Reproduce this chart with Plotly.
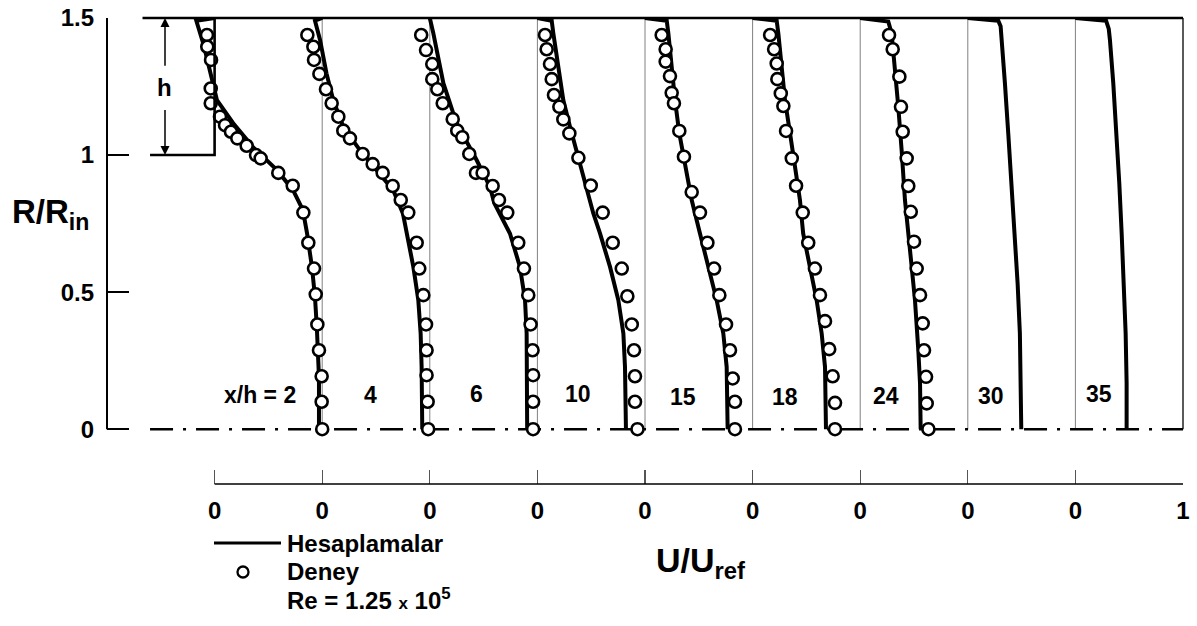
import plotly.graph_objects as go

# ---------------- data (R/Rin vs U/Uref, one list pair per station) ----------------
stations = ["x/h = 2", "4", "6", "10", "15", "18", "24", "30", "35"]
axis_ticks = [0, 1, 2, 3, 4, 5, 6, 7, 8, 9]
axis_ticktext = ["0", "0", "0", "0", "0", "0", "0", "0", "0", "1"]
r_ticks = [0, 0.5, 1, 1.5]
r_ticktext = ["0", "0.5", "1", "1.5"]

# computed profiles (Hesaplamalar)
calc_R_2 = [1.5, 1.49, 1.40, 1.266, 1.20, 1.117, 1.029, 0.945, 0.872, 0.80, 0.715, 0.591, 0.482, 0.372, 0.288, 0.19, 0.0]
calc_U_2 = [0.0, -0.17, -0.10, -0.015, 0.022, 0.171, 0.357, 0.58, 0.729, 0.82, 0.859, 0.905, 0.933, 0.95, 0.96, 0.97, 0.97]

calc_R_4 = [1.5, 1.49, 1.42, 1.298, 1.20, 1.103, 1.018, 0.945, 0.872, 0.787, 0.714, 0.592, 0.471, 0.349, 0.227, 0.0]
calc_U_4 = [0.0, -0.067, -0.02, 0.04, 0.103, 0.196, 0.35, 0.505, 0.66, 0.75, 0.785, 0.847, 0.893, 0.915, 0.924, 0.93]

calc_R_6 = [1.5, 1.444, 1.262, 1.116, 0.982, 0.884, 0.824, 0.787, 0.714, 0.592, 0.471, 0.349, 0.0]
calc_U_6 = [0.0, 0.033, 0.126, 0.249, 0.435, 0.559, 0.60, 0.652, 0.745, 0.838, 0.885, 0.90, 0.905]

calc_R_10 = [1.5, 1.49, 1.444, 1.322, 1.20, 1.103, 0.994, 0.884, 0.787, 0.714, 0.592, 0.471, 0.349, 0.227, 0.0]
calc_U_10 = [0.0, 0.133, 0.148, 0.195, 0.241, 0.303, 0.381, 0.458, 0.52, 0.582, 0.675, 0.752, 0.799, 0.814, 0.823]

calc_R_15 = [1.5, 1.49, 1.444, 1.322, 1.20, 1.079, 0.957, 0.836, 0.714, 0.592, 0.471, 0.349, 0.227, 0.0]
calc_U_15 = [0.0, 0.202, 0.217, 0.248, 0.279, 0.319, 0.372, 0.434, 0.511, 0.589, 0.666, 0.728, 0.759, 0.768]

calc_R_18 = [1.5, 1.49, 1.444, 1.322, 1.20, 1.079, 0.957, 0.836, 0.714, 0.592, 0.471, 0.349, 0.227, 0.0]
calc_U_18 = [0.0, 0.224, 0.239, 0.27, 0.301, 0.348, 0.394, 0.44, 0.47, 0.533, 0.595, 0.642, 0.673, 0.682]

calc_R_24 = [1.5, 1.487, 1.444, 1.322, 1.176, 1.018, 0.836, 0.653, 0.471, 0.288, 0.167, 0.0]
calc_U_24 = [0.0, 0.261, 0.292, 0.323, 0.354, 0.385, 0.416, 0.463, 0.509, 0.54, 0.556, 0.562]

calc_R_30 = [1.5, 1.49, 1.47, 1.42, 1.262, 1.079, 0.897, 0.714, 0.532, 0.349, 0.167, 0.0]
calc_U_30 = [0.0, 0.283, 0.305, 0.316, 0.345, 0.376, 0.407, 0.438, 0.463, 0.484, 0.494, 0.497]

calc_R_35 = [1.5, 1.49, 1.46, 1.42, 1.262, 1.079, 0.897, 0.714, 0.532, 0.349, 0.167, 0.0]
calc_U_35 = [0.0, 0.285, 0.31, 0.321, 0.352, 0.383, 0.408, 0.43, 0.451, 0.467, 0.476, 0.476]

# experiment (Deney)
exp_R_2 = [1.438, 1.395, 1.347, 1.243, 1.189, 1.14, 1.109, 1.085, 1.061, 1.034, 1.0, 0.988, 0.935, 0.888,
           0.79, 0.68, 0.586, 0.492, 0.382, 0.288, 0.193, 0.10, 0.0]
exp_U_2 = [-0.071, -0.068, -0.033, -0.036, -0.036, 0.05, 0.097, 0.152, 0.211, 0.298, 0.385, 0.428, 0.592, 0.726,
           0.825, 0.871, 0.924, 0.94, 0.955, 0.97, 0.995, 0.995, 1.0]

exp_R_4 = [1.438, 1.395, 1.347, 1.296, 1.24, 1.189, 1.14, 1.089, 1.061, 1.004, 0.967, 0.935, 0.887, 0.836,
           0.79, 0.68, 0.586, 0.489, 0.382, 0.288, 0.197, 0.10, 0.0]
exp_U_4 = [-0.138, -0.082, -0.076, -0.026, 0.035, 0.088, 0.15, 0.196, 0.258, 0.376, 0.469, 0.562, 0.655, 0.73,
           0.80, 0.878, 0.902, 0.94, 0.965, 0.97, 0.97, 0.98, 0.985]

exp_R_6 = [1.438, 1.383, 1.332, 1.277, 1.24, 1.189, 1.131, 1.089, 1.065, 1.004, 0.935, 0.935, 0.887, 0.836,
           0.79, 0.68, 0.586, 0.489, 0.382, 0.288, 0.197, 0.10, 0.0]
exp_U_6 = [-0.08, -0.035, 0.023, 0.023, 0.07, 0.12, 0.213, 0.255, 0.302, 0.367, 0.429, 0.491, 0.584, 0.643,
           0.72, 0.822, 0.875, 0.915, 0.937, 0.955, 0.96, 0.96, 0.96]

exp_R_10 = [1.438, 1.386, 1.332, 1.277, 1.219, 1.176, 1.13, 1.079, 0.99, 0.889, 0.79, 0.68, 0.586, 0.485,
            0.382, 0.288, 0.193, 0.10, 0.0]
exp_U_10 = [0.071, 0.086, 0.117, 0.133, 0.154, 0.204, 0.241, 0.297, 0.381, 0.496, 0.607, 0.70, 0.784, 0.836,
            0.877, 0.898, 0.907, 0.907, 0.93]

exp_R_15 = [1.438, 1.386, 1.341, 1.288, 1.227, 1.189, 1.088, 0.994, 0.865, 0.79, 0.68, 0.586, 0.489, 0.382,
            0.288, 0.185, 0.10, 0.0]
exp_U_15 = [0.155, 0.192, 0.192, 0.232, 0.248, 0.269, 0.319, 0.362, 0.434, 0.511, 0.58, 0.642, 0.691, 0.753,
            0.79, 0.815, 0.836, 0.836]

exp_R_18 = [1.438, 1.386, 1.334, 1.277, 1.225, 1.179, 1.088, 0.988, 0.888, 0.79, 0.68, 0.586, 0.489, 0.394,
            0.292, 0.193, 0.096, 0.0]
exp_U_18 = [0.163, 0.20, 0.224, 0.23, 0.262, 0.286, 0.311, 0.364, 0.404, 0.466, 0.517, 0.579, 0.626, 0.673,
            0.712, 0.744, 0.766, 0.766]

exp_R_24 = [1.438, 1.386, 1.286, 1.176, 1.085, 0.988, 0.887, 0.793, 0.684, 0.586, 0.489, 0.386, 0.288, 0.191,
            0.094, 0.0]
exp_U_24 = [0.268, 0.302, 0.364, 0.379, 0.395, 0.432, 0.447, 0.47, 0.50, 0.525, 0.556, 0.581, 0.593, 0.612,
            0.618, 0.634]

calc_U = [calc_U_2, calc_U_4, calc_U_6, calc_U_10, calc_U_15, calc_U_18, calc_U_24, calc_U_30, calc_U_35]
calc_R = [calc_R_2, calc_R_4, calc_R_6, calc_R_10, calc_R_15, calc_R_18, calc_R_24, calc_R_30, calc_R_35]
exp_U = [exp_U_2, exp_U_4, exp_U_6, exp_U_10, exp_U_15, exp_U_18, exp_U_24]
exp_R = [exp_R_2, exp_R_4, exp_R_6, exp_R_10, exp_R_15, exp_R_18, exp_R_24]

# ---------------- figure ----------------
FONT = "Liberation Sans, Arial, sans-serif"
W, H = 1197, 626
# plot area in window pixels: x 107..1183, y 18..484
ML, MT = 107, 18
MR = W - 1183
MB = H - 484
PW, PH = W - ML - MR, H - MT - MB
XR = [-1, 9]
YR = [-0.2, 1.5]


def pxx(px):  # window px -> paper fraction
    return (px - ML) / PW


def pxy(py):
    return (H - MB - py) / PH


def dy(v):  # data y -> paper fraction
    return (v - YR[0]) / (YR[1] - YR[0])


def dx(v):  # data x -> paper fraction
    return (v - XR[0]) / (XR[1] - XR[0])


fig = go.Figure()

# computed lines; each station shifted by its index on the shared x axis
for i, (u, r) in enumerate(zip(calc_U, calc_R)):
    fig.add_trace(go.Scatter(x=[i + v for v in u], y=r, mode="lines",
                             line=dict(color="black", width=4),
                             name="Hesaplamalar", showlegend=False, hoverinfo="skip"))

for i, (u, r) in enumerate(zip(exp_U, exp_R)):
    fig.add_trace(go.Scatter(x=[i + v for v in u], y=r, mode="markers",
                             marker=dict(symbol="circle", size=12, color="white",
                                         line=dict(color="black", width=2.6)),
                             name="Deney", showlegend=False, hoverinfo="skip", cliponaxis=False))

shapes = []
# station reference lines
for i in range(1, 9):
    shapes.append(dict(type="line", xref="x", yref="y", x0=i, x1=i, y0=0, y1=1.5,
                       line=dict(color="#808080", width=1), layer="below"))
# right border (paper refs so it is not clipped at the edge)
shapes.append(dict(type="line", xref="paper", yref="paper", x0=1, x1=1, y0=dy(0), y1=1,
                   line=dict(color="black", width=1.3), layer="above"))
# left axis line
shapes.append(dict(type="line", xref="paper", yref="paper", x0=0, x1=0, y0=dy(0), y1=1,
                   line=dict(color="black", width=2), layer="above"))
# top wall
shapes.append(dict(type="line", xref="paper", yref="paper", x0=dx(-0.67), x1=1, y0=1, y1=1,
                   line=dict(color="black", width=2.6), layer="above"))
# inlet wall + step
shapes.append(dict(type="path", xref="x", yref="y", path="M -0.6,1 L 0,1 L 0,1.5",
                   line=dict(color="black", width=2.6)))
# centerline
shapes.append(dict(type="line", xref="x", yref="y", x0=-0.6, x1=9, y0=0, y1=0,
                   line=dict(color="black", width=2.6, dash="23px,10px,3px,10px"), layer="below"))
# bottom U axis line
shapes.append(dict(type="line", xref="paper", yref="paper", x0=dx(0), x1=1, y0=0, y1=0,
                   line=dict(color="black", width=1.5), layer="above"))
# legend line sample
shapes.append(dict(type="line", xref="paper", yref="paper", x0=pxx(214), x1=pxx(281),
                   y0=pxy(543), y1=pxy(543), line=dict(color="black", width=3)))
# legend circle sample
shapes.append(dict(type="circle", xref="paper", yref="paper", xsizemode="pixel", ysizemode="pixel",
                   xanchor=pxx(243), yanchor=pxy(572), x0=-5.5, x1=5.5, y0=-5.5, y1=5.5,
                   line=dict(color="black", width=2.3), fillcolor="white"))

annotations = []
bold = dict(family=FONT, color="black", weight="bold")
# station labels
label_pos = [(0.42, 0.124), (1.445, 0.124), (2.43, 0.13), (3.38, 0.13), (4.35, 0.118),
             (5.30, 0.118), (6.24, 0.12), (7.22, 0.12), (8.22, 0.13)]
for txt, (lx, ly) in zip(stations, label_pos):
    annotations.append(dict(x=lx, y=ly, xref="x", yref="y", text=txt, showarrow=False,
                            font=dict(size=23, **bold), xanchor="center", yanchor="middle"))
# h arrows
annotations.append(dict(x=-0.461, y=1.5, ax=-0.461, ay=1.32, xref="x", yref="y", axref="x", ayref="y",
                        text="", showarrow=True, arrowhead=2, arrowsize=1.2, arrowwidth=1.5, arrowcolor="black"))
annotations.append(dict(x=-0.461, y=1.0, ax=-0.461, ay=1.17, xref="x", yref="y", axref="x", ayref="y",
                        text="", showarrow=True, arrowhead=2, arrowsize=1.2, arrowwidth=1.5, arrowcolor="black"))
annotations.append(dict(x=-0.47, y=1.245, xref="x", yref="y", text="h", showarrow=False,
                        font=dict(size=24, **bold), xanchor="center", yanchor="middle"))
# axis titles
annotations.append(dict(x=pxx(50), y=pxy(214), xref="paper", yref="paper", text="R/R<sub>in</sub>",
                        showarrow=False, font=dict(size=33, **bold), xanchor="center", yanchor="middle"))
annotations.append(dict(x=pxx(700), y=pxy(562), xref="paper", yref="paper", text="U/U<sub>ref</sub>",
                        showarrow=False, font=dict(size=34, **bold), xanchor="center", yanchor="middle"))
# legend texts
annotations.append(dict(x=pxx(285), y=pxy(543), xref="paper", yref="paper", text="Hesaplamalar",
                        showarrow=False, font=dict(size=24, **bold), xanchor="left", yanchor="middle"))
annotations.append(dict(x=pxx(285), y=pxy(571), xref="paper", yref="paper", text="Deney",
                        showarrow=False, font=dict(size=24, **bold), xanchor="left", yanchor="middle"))
annotations.append(dict(x=pxx(285), y=pxy(599), xref="paper", yref="paper",
                        text="Re = 1.25 <span style='font-size:17px'>x</span> 10<sup>5</sup>",
                        showarrow=False, font=dict(size=24, **bold), xanchor="left", yanchor="middle"))

fig.update_layout(
    width=W, height=H, autosize=False,
    margin=dict(l=ML, r=MR, t=MT, b=MB, pad=0),
    paper_bgcolor="white", plot_bgcolor="rgba(0,0,0,0)",
    showlegend=False, hovermode=False,
    shapes=shapes, annotations=annotations,
    xaxis=dict(range=XR, tickvals=axis_ticks, ticktext=axis_ticktext, automargin=False,
               showgrid=False, zeroline=False, showline=False, ticklabeloverflow="allow",
               ticks="inside", ticklen=14, tickwidth=1.3, tickcolor="#555555",
               tickfont=dict(size=24, **bold), ticklabelstandoff=10, fixedrange=True),
    yaxis=dict(range=YR, tickvals=r_ticks, ticktext=r_ticktext, automargin=False,
               showgrid=False, zeroline=False, showline=False, ticklabeloverflow="allow",
               ticks="inside", ticklen=22, tickwidth=2, tickcolor="black",
               tickfont=dict(size=24, **bold), ticklabelstandoff=12, fixedrange=True),
)

# remove the default page margin so the figure sits at the window's top-left corner
fig.write_html("out.html",
               config={"displayModeBar": False, "staticPlot": True},
               post_script="document.body.style.margin='0';document.body.style.overflow='hidden';")
